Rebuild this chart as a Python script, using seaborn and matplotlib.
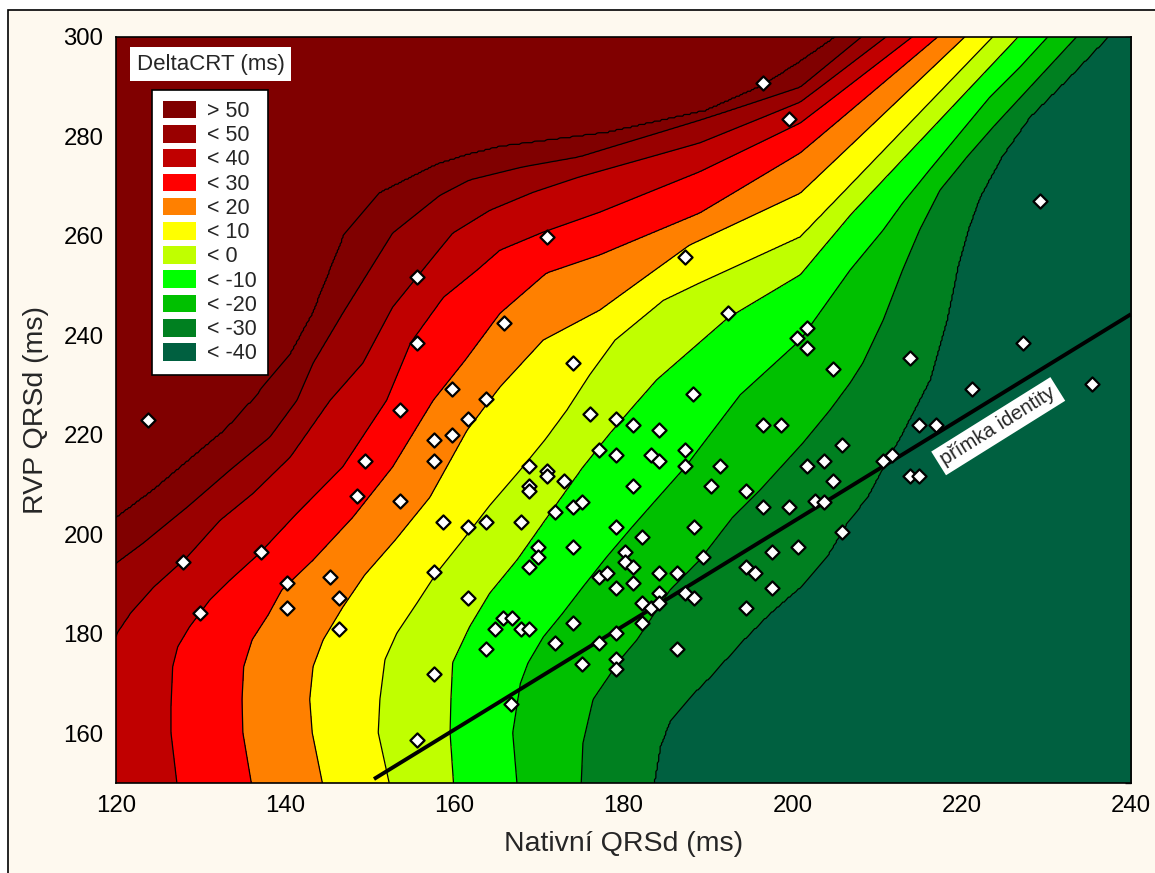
import numpy as np
import matplotlib
matplotlib.use("Agg")
import matplotlib.pyplot as plt
from matplotlib.patches import Patch, Rectangle
import seaborn as sns

sns.set_style("white")
plt.rcParams["font.family"] = ["Liberation Sans", "DejaVu Sans"]

# --- measured patients: native QRS duration vs. RV-paced QRS duration (ms) ---
nativni_qrsd = [196.5, 199.6, 229.3, 123.8, 155.6, 170.9, 187.3, 165.9, 155.6, 192.3,
                174.0, 159.7, 163.7, 153.6, 176.0, 161.6, 157.6, 159.7, 149.4, 157.6,
                148.5, 153.6, 158.7, 161.6, 163.7, 137.1, 127.9, 140.2, 145.3, 146.4,
                140.2, 129.9, 157.6, 161.6, 146.4, 165.7, 164.8, 163.7, 157.6, 155.6,
                166.7, 200.5, 201.7, 201.7, 204.8, 188.2, 179.1, 181.1, 184.2, 196.5,
                198.6, 177.1, 179.1, 183.2, 184.2, 187.3, 187.3, 191.4, 168.8, 170.9,
                170.9, 173.0, 168.8, 168.8, 181.1, 190.3, 194.5, 174.0, 175.1, 171.9,
                167.9, 196.5, 199.6, 179.1, 188.3, 182.2, 169.9, 174.0, 169.9, 168.8,
                180.2, 180.2, 181.1, 189.4, 197.5, 200.6, 194.5, 195.5, 197.5, 177.1,
                178.0, 179.1, 181.1, 184.2, 186.3, 184.2, 187.3, 188.3, 205.8, 201.7,
                203.7, 204.8, 202.6, 203.7, 205.8, 210.7, 211.8, 182.2, 183.2, 184.2,
                194.5, 166.8, 167.9, 168.8, 174.0, 182.2, 171.9, 177.1, 179.1, 186.3,
                179.1, 179.1, 175.1, 213.9, 221.2, 235.4, 214.9, 217.0, 213.9, 214.9,
                227.2]
rvp_qrsd = [290.7, 283.4, 266.9, 222.9, 251.7, 259.7, 255.7, 242.4, 238.4, 244.4,
            234.4, 229.1, 227.1, 224.9, 224.1, 223.1, 218.9, 219.9, 214.7, 214.7,
            207.6, 206.6, 202.4, 201.4, 202.4, 196.4, 194.4, 190.2, 191.4, 187.1,
            185.1, 184.1, 192.4, 187.1, 180.9, 183.1, 180.9, 176.9, 171.9, 158.6,
            165.8, 239.4, 241.4, 237.4, 233.2, 228.1, 223.1, 221.9, 220.9, 221.9,
            221.9, 216.9, 215.9, 215.9, 214.7, 216.9, 213.7, 213.7, 213.7, 212.7,
            211.7, 210.7, 209.6, 208.6, 209.6, 209.6, 208.6, 205.4, 206.4, 204.4,
            202.4, 205.4, 205.4, 201.4, 201.4, 199.4, 197.4, 197.4, 195.4, 193.4,
            196.4, 194.4, 193.4, 195.4, 196.4, 197.4, 193.4, 192.2, 189.1, 191.4,
            192.2, 189.1, 190.2, 192.2, 192.2, 188.1, 188.1, 187.1, 217.9, 213.7,
            214.7, 210.7, 206.6, 206.4, 200.4, 214.7, 215.9, 186.1, 185.1, 186.1,
            185.1, 183.1, 180.9, 180.9, 182.1, 182.1, 178.1, 178.1, 180.1, 176.9,
            174.9, 172.9, 173.9, 235.4, 229.1, 230.2, 221.9, 221.9, 211.7, 211.7,
            238.4]

# --- DeltaCRT iso-lines: native QRSd (x) where the surface crosses each level, per RVP QRSd (y) ---
iso_levels = [60, 50, 40, 30, 20, 10, 0, -10, -20, -30, -40]

iso_p60_y = [150, 170, 185, 195, 203.2, 208.8, 215.5, 220.9, 227.0, 236.6, 244.4, 260.5,
             268.5, 274.2, 276.2, 277.8, 280.6, 285.0, 290.1, 294.9, 300]
iso_p60_x = [109, 110, 113, 117.5, 120, 124.4, 129.1, 132.9, 136.2, 140.8, 143.3, 147.1,
             151.2, 157.9, 161.6, 165.4, 178.0, 189.7, 196.5, 200.9, 205.2]

iso_p50_y = [150, 160, 175, 185, 194.2, 198.2, 205.4, 212.9, 219.5, 226.9, 234.4, 244.4,
             260.5, 268.1, 271.2, 273.8, 275.8, 283.2, 289.8, 300]
iso_p50_x = [113.5, 114, 115.5, 118, 120, 123.2, 128.4, 133.5, 138.2, 141.4, 143.3, 146.8,
             152.7, 158.3, 161.8, 168.1, 174.8, 189.0, 200.9, 208.2]

iso_p40_y = [150, 160, 170, 180.1, 184.1, 189.3, 195.4, 202.8, 208.2, 215.5, 226.9, 234.4,
             245.6, 251.7, 260.5, 265.1, 268.7, 271.8, 278.6, 286.8, 300]
iso_p40_x = [117.5, 117.5, 118.5, 120.1, 121.7, 124.4, 128.4, 132.3, 136.2, 140.6, 145.3, 149.2,
             152.7, 155.6, 159.8, 164.2, 169.3, 174.8, 189.0, 200.9, 211.1]

iso_p30_y = [150, 160.1, 165.4, 173.4, 177.4, 181.4, 186.8, 190.8, 196.2, 204.2, 213.5, 226.9,
             238.4, 247.6, 253.1, 257.1, 260.7, 264.7, 272.8, 282.6, 300]
iso_p30_x = [127.2, 126.5, 126.5, 126.7, 127.3, 128.7, 131.1, 133.5, 137.0, 141.4, 146.8, 152.0,
             154.8, 158.7, 162.7, 165.4, 170.5, 177.2, 189.0, 200.9, 214.2]

iso_p20_y = [150, 160.1, 166.8, 173.4, 178.8, 183.8, 188.8, 194.8, 203.4, 213.5, 226.9, 235.0,
             244.4, 252.5, 256.1, 264.5, 276.6, 300]
iso_p20_x = [136.0, 135.0, 134.9, 135.1, 136.1, 138.0, 139.6, 143.3, 148.0, 152.7, 157.5, 161.3,
             165.4, 170.9, 177.2, 189.0, 200.9, 217.2]

iso_p10_y = [150, 160.1, 166.8, 173.4, 178.8, 185.3, 191.8, 198.8, 207.4, 220.9, 229.6, 239.0,
             245.0, 258.1, 268.5, 300]
iso_p10_x = [144.4, 143.2, 142.9, 143.3, 144.5, 146.8, 149.4, 153.0, 157.1, 161.5, 165.4, 170.5,
             177.2, 187.8, 200.9, 220.4]

iso_0_y = [150, 160.1, 166.8, 174.8, 180.1, 186.2, 192.2, 198.8, 205.8, 212.9, 218.9, 224.9,
           232.0, 239.0, 247.0, 250.5, 259.7, 300]
iso_0_x = [152.3, 151.0, 151.2, 151.8, 153.2, 155.6, 157.9, 161.0, 164.2, 167.8, 170.7, 173.3,
           176.0, 179.0, 184.7, 189.0, 200.9, 223.7]

iso_m10_y = [150, 160.1, 166.8, 174.2, 181.4, 188.2, 194.8, 204.2, 213.5, 220.3, 231.0, 243.4,
             252.1, 264.1, 300]
iso_m10_x = [159.9, 159.5, 159.6, 159.8, 161.8, 164.2, 167.4, 171.3, 175.2, 178.4, 183.9, 192.3,
             200.9, 206.8, 226.7]

iso_m20_y = [150, 160.1, 170.0, 174.1, 179.3, 184.1, 189.4, 195.4, 201.4, 206.8, 213.5, 228.0,
             239.0, 253.1, 261.1, 266.5, 273.2, 279.8, 287.8, 293.9, 300]
iso_m20_x = [167.4, 166.9, 167.8, 168.7, 170.5, 172.8, 175.2, 178.0, 181.0, 183.8, 187.3, 193.8,
             200.9, 206.8, 210.7, 213.0, 216.2, 219.4, 223.3, 226.9, 230.2]

iso_m30_y = [150, 158.0, 166.8, 174.8, 178.8, 188.8, 194.8, 203.4, 208.8, 218.3, 224.9, 230.4,
             234.4, 243.0, 253.1, 261.1, 269.1, 275.8, 281.8, 300]
iso_m30_x = [175.0, 175.2, 176.4, 179.6, 181.6, 185.5, 189.0, 192.9, 196.1, 201.2, 204.4, 206.8,
             208.3, 210.7, 213.0, 215.0, 217.4, 220.6, 223.7, 233.6]

iso_m40_y = [150, 157.2, 162.6, 167.2, 172.0, 178.1, 184.1, 189.4, 195.4, 202.2, 207.4, 213.5,
             219.5, 231.0, 243.0, 253.7, 261.1, 267.7, 275.8, 283.8, 291.3, 300]
iso_m40_x = [183.6, 184.3, 185.5, 187.8, 190.6, 193.8, 197.3, 200.9, 204.0, 206.4, 208.8, 210.7,
             212.7, 216.2, 218.2, 219.5, 220.7, 222.1, 224.7, 228.0, 232.4, 237.3]

legend_labels = ["> 50", "< 50", "< 40", "< 30", "< 20", "< 10", "< 0",
                 "< -10", "< -20", "< -30", "< -40"]
band_colors = ["#800000", "#990000", "#C00000", "#FF0000", "#FF8000", "#FFFF00",
               "#C0FF00", "#00FF00", "#00C000", "#008020", "#006040"]

identity_x = [150.5, 240.0]
identity_y = [150.8, 244.2]

# --- rebuild the DeltaCRT surface on a grid from the iso-lines ---
iso_lines = [(iso_p60_y, iso_p60_x), (iso_p50_y, iso_p50_x), (iso_p40_y, iso_p40_x),
             (iso_p30_y, iso_p30_x), (iso_p20_y, iso_p20_x), (iso_p10_y, iso_p10_x),
             (iso_0_y, iso_0_x), (iso_m10_y, iso_m10_x), (iso_m20_y, iso_m20_x),
             (iso_m30_y, iso_m30_x), (iso_m40_y, iso_m40_x)]
gy = np.linspace(150, 300, 451)
gx = np.linspace(120, 240, 721)
Z = np.empty((gy.size, gx.size))
lv = np.array(iso_levels, dtype=float)
for i, yv in enumerate(gy):
    cx = np.array([np.interp(yv, ly, lx) for ly, lx in iso_lines])
    xp = np.concatenate([[cx[0] - 500.0], cx, [cx[-1] + 500.0]])
    fp = np.concatenate([[lv[0] + 10.0], lv, [lv[-1] - 10.0]])
    Z[i] = np.interp(gx, xp, fp)

fill_levels = [-50, -40, -30, -20, -10, 0, 10, 20, 30, 40, 50, 60, 70]
fill_colors = band_colors[::-1] + [band_colors[0]]

# --- figure ---
W, H = 1155, 873
fig = plt.figure(figsize=(W / 100, H / 100), dpi=100, facecolor="white")
fig.patches.append(Rectangle((8 / W, -0.05), 1.1, 1 - 10 / H + 0.05, transform=fig.transFigure,
                             facecolor="#FEF9EF", edgecolor="black", linewidth=1.2, zorder=-10))

ax = fig.add_axes([116 / W, 1 - 783 / H, (1131 - 116) / W, (783 - 36.5) / H])
ax.contourf(gx, gy, Z, levels=fill_levels, colors=fill_colors, zorder=1)
ax.contour(gx, gy, Z, levels=sorted(iso_levels), colors="black", linewidths=0.9,
           linestyles="solid", zorder=2)

ax.plot(identity_x, identity_y, color="black", linewidth=2.8, zorder=3, solid_capstyle="butt")

sns.scatterplot(x=nativni_qrsd, y=rvp_qrsd, marker="D", s=52, color="white",
                edgecolor="black", linewidth=1.6, ax=ax, zorder=4, legend=False)

ax.text(224.3, 221.7, "přímka identity", rotation=32, rotation_mode="anchor",
        ha="center", va="center", fontsize=14.6, zorder=6,
        bbox=dict(boxstyle="square,pad=0.22", facecolor="white", edgecolor="none"))

ax.set_xlim(120, 240)
ax.set_ylim(150, 300)
ax.set_xticks(range(120, 241, 20))
ax.set_xticks(range(130, 240, 20), minor=True)
ax.set_yticks(range(160, 301, 20))
ax.tick_params(which="both", direction="in", length=4, width=1, colors="black",
               labelsize=17.3, pad=9, top=False, right=False)
ax.set_xlabel("Nativní QRSd (ms)", fontsize=20.5, labelpad=10)
ax.set_ylabel("RVP QRSd (ms)", fontsize=20.5, labelpad=10)
for sp in ax.spines.values():
    sp.set_color("black")
    sp.set_linewidth(1.2)
    sp.set_zorder(7)

rax = ax.secondary_yaxis("right")
rax.set_ticks(np.linspace(150, 300, 9))
rax.tick_params(direction="in", length=4, width=1, labelright=False)
rax.spines["right"].set_linewidth(1.2)

handles = [Patch(facecolor=c, edgecolor="none") for c in band_colors]
leg = ax.legend(handles, legend_labels, loc="upper left",
                bbox_to_anchor=((152 - 116) / 1015, 1 - (90 - 36.5) / 746.5),
                borderaxespad=0, fontsize=15.5, frameon=True, fancybox=False,
                edgecolor="black", framealpha=1, handlelength=1.53, handleheight=0.88,
                handletextpad=0.53, borderpad=0.5, labelspacing=0.14)
leg.get_frame().set_linewidth(1.2)
leg.set_zorder(8)

ax.text((210.5 - 116) / 1015, 1 - (64 - 36.5) / 746.5, "DeltaCRT (ms)", transform=ax.transAxes,
        ha="center", va="center", fontsize=16, zorder=8,
        bbox=dict(boxstyle="square,pad=0.3", facecolor="white", edgecolor="none"))

fig.savefig("out.png", dpi=100)
